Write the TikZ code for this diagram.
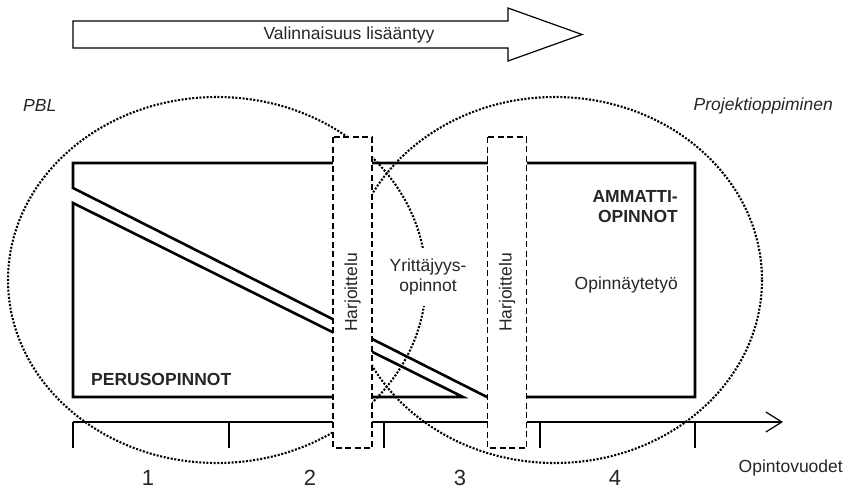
\documentclass[tikz,border=0pt]{standalone}
\usepackage{fontspec}
\setmainfont{Liberation Sans}
\usetikzlibrary{arrows.meta}

\begin{document}
\begin{tikzpicture}[
        x=1pt, y=-1pt,
        plain_text/.style={font=\fontsize{17.5}{20}\selectfont, text=black!85, inner sep=1pt},
        bold_text/.style={plain_text, font=\fontsize{17.5}{20}\selectfont\bfseries},
        slant_text/.style={plain_text, font=\fontsize{17.5}{20}\selectfont\itshape},
        year_text/.style={plain_text, font=\fontsize{22}{24}\selectfont},
        study_block/.style={draw, line width=2.6pt, line join=miter},
        method_area/.style={draw, line width=2.1pt, dash pattern=on 2pt off 1.6pt},
        practice_box/.style={draw, fill=white, line width=1.3pt, dash pattern=on 6pt off 3.5pt, rotate=90, minimum width=311pt, minimum height=39pt, inner sep=0pt, plain_text},
        time_axis/.style={draw, line width=1.2pt}
    ]
        \useasboundingbox (0,0) rectangle (847,490);

        % Valinnaisuus: wide arrow on top
        \draw[line width=1.2pt, line join=miter] (73,21) -- (508,21) -- (508,8) -- (582,34.5) -- (508,61) -- (508,48) -- (73,48) -- cycle;
        \node[plain_text] (choice_label) at (349,35) {Valinnaisuus lisääntyy};

        % Study blocks
        \path[study_block] (73,203) -- (463,397) -- (73,397) -- cycle;
        \path[study_block] (73,188) -- (487,397) -- (695,397) -- (695,163) -- (73,163) -- cycle;
        \node[bold_text, anchor=west] (basic_label) at (90,379) {PERUSOPINNOT};
        \node[bold_text, anchor=east, align=right] (prof_label) at (679,207) {AMMATTI-\\OPINNOT};
        \node[plain_text, anchor=east] (thesis_label) at (679,285) {Opinnäytetyö};

        % Time axis with year ticks
        \coordinate (axis_start) at (73,422);
        \coordinate (axis_end) at (783,422);
        \draw[time_axis, -{Straight Barb[length=16pt, width=20pt, line width=1.2pt]}] (axis_start) -- (axis_end);
        \foreach \tx in {73,229,384,540,695}
            \draw[time_axis] (\tx,422) -- (\tx,448);
        \foreach \yr/\yx in {1/148,2/310,3/460,4/615}
            \node[year_text] (year_\yr) at (\yx,478) {\yr};
        \node[plain_text, anchor=east] (axis_label) at (844,468) {Opintovuodet};

        % Learning methods
        \path[method_area] (217,280) ellipse [x radius=209, y radius=183];
        \path[method_area] (555,280) ellipse [x radius=207, y radius=183];
        \node[slant_text, anchor=west] (pbl_label) at (22,105) {PBL};
        \node[slant_text, anchor=east] (project_label) at (834,106) {Projektioppiminen};
        \node[plain_text, fill=white, align=center, inner xsep=2pt, inner ysep=11pt] (entre_label) at (428,277) {Yrittäjyys-\\opinnot};

        % Harjoittelu periods
        \node[practice_box] (practice_1) at (352.5,292.5) {Harjoittelu};
        \node[practice_box] (practice_2) at (507,292.5) {Harjoittelu};

    \end{tikzpicture}
\end{document}
